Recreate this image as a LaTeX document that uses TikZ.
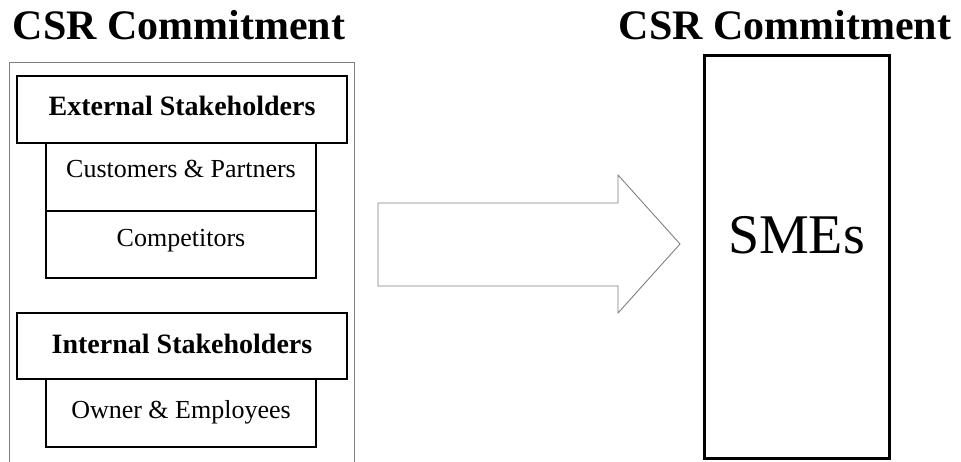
\documentclass[tikz,border=0pt]{standalone}
\usepackage{fontspec}
\setmainfont{Liberation Serif}
\begin{document}
\begin{tikzpicture}[x=1pt,y=-1pt,
  title/.style={font=\fontsize{42}{48}\selectfont\bfseries, anchor=base, inner sep=0pt},
  headbox/.style={draw=black, line width=2.8pt, fill=white, minimum width=330pt, minimum height=67pt, inner sep=0pt, font=\fontsize{28}{32}\selectfont\bfseries, text height=19pt},
  subbox/.style={draw=black, line width=2.8pt, fill=white, minimum width=270pt, minimum height=68pt, inner sep=0pt, font=\fontsize{26}{30}\selectfont, text height=17pt},
  frame/.style={draw=black!50, line width=0.9pt},
  bigarrow/.style={draw=black!50, line width=0.9pt, fill=white},
  smebox/.style={draw=black, line width=3pt, minimum width=185pt, minimum height=403pt, inner sep=0pt, font=\fontsize{56}{62}\selectfont, text height=37pt, text depth=43pt}
]
\useasboundingbox (0,0) rectangle (961,461);
\clip (0,0) rectangle (961,461);
% titles
\node[title] (t1) at (179,39) {CSR Commitment};
\node[title] (t2) at (785,39) {CSR Commitment};
% outer frame
\draw[frame] (9.5,470) -- (9.5,62) -- (354,62) -- (354,470);
% external stakeholders group
\node[subbox, text depth=16pt] (cust) at (181,177) {Customers \& Partners};
\node[subbox, minimum height=67pt, text depth=14pt] (comp) at (181,244.5) {Competitors};
\node[headbox, text depth=8pt] (ext) at (182,109.5) {External Stakeholders};
% internal stakeholders group
\node[subbox, text depth=6pt] (own) at (181,413) {Owner \& Employees};
\node[headbox, minimum height=66pt, text depth=4pt] (int) at (182,346) {Internal Stakeholders};
% arrow
\draw[bigarrow] (378,203) -- (618,203) -- (618,175) -- (680,244) -- (618,313) -- (618,286) -- (378,286) -- cycle;
% SMEs
\node[smebox] (sme) at (796.5,256.5) {SMEs};
\end{tikzpicture}
\end{document}
